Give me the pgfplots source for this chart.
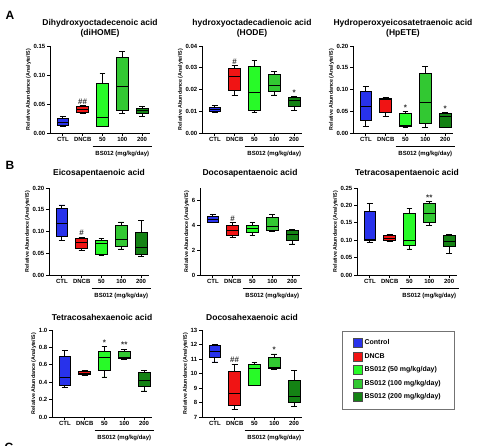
\documentclass[border=0pt]{standalone}
\usepackage{fontspec}
\setmainfont{Liberation Sans}
\usepackage{pgfplots}
\pgfplotsset{compat=1.18}
\usepgfplotslibrary{statistics}
\definecolor{cctl}{RGB}{40,50,235}
\definecolor{cdncb}{RGB}{240,20,20}
\definecolor{cfifty}{RGB}{40,250,40}
\definecolor{chund}{RGB}{50,200,50}
\definecolor{ctwo}{RGB}{20,130,20}
\pgfplotsset{
 panel/.style={scale only axis, width=100pt, height=87pt, anchor=south west,
  xmin=-0.65, xmax=4.4, xtick={0,1,2,3,4}, xticklabels={CTL,DNCB,50,100,200},
  axis x line=bottom, axis y line=left, axis line style={line width=0.8pt,-},
  tick style={line width=0.8pt, black}, tick align=outside, major tick length=3pt,
  clip=false, scaled y ticks=false,
  xticklabel style={font=\bfseries\fontsize{6}{7}\selectfont, inner sep=1.5pt},
  yticklabel style={font=\bfseries\fontsize{6}{7}\selectfont, inner sep=1.5pt},
  /pgf/number format/assume math mode=true,
  ylabel={Relative Abundance (Analyte/IS)},
  ylabel style={font=\bfseries\fontsize{5.3}{6}\selectfont, inner sep=1pt},
 },
 p2/.style={yticklabel style={/pgf/number format/fixed,/pgf/number format/fixed zerofill,/pgf/number format/precision=2}},
 p1/.style={yticklabel style={/pgf/number format/fixed,/pgf/number format/fixed zerofill,/pgf/number format/precision=1}},
 sw/.style={legend image code/.code={\draw[line width=0.4pt,draw=black!70,##1] (0pt,-4.5pt) rectangle (9pt,4.5pt);}},
}
\newcommand{\bx}[7]{\addplot[fill=#7, draw=black, line width=0.8pt, boxplot prepared={draw direction=y, draw position=#1, lower whisker=#2, lower quartile=#3, median=#4, upper quartile=#5, upper whisker=#6, box extend=0.6, whisker extend=0.3}] coordinates {};}
\newcommand{\sig}[3]{\node[anchor=south, inner sep=1pt, text=black!80, font=\bfseries\fontsize{8}{8}\selectfont] at (axis cs:#1,#2) {#3};}
\newcommand{\bsline}[1]{\draw[line width=0.9pt] ([yshift=-13pt]axis cs:1.5,#1) -- ([yshift=-13pt]axis cs:4.5,#1);
 \node[font=\bfseries\fontsize{6}{7}\selectfont] at ([yshift=-21pt]axis cs:3,#1) {BS012 (mg/kg/day)};}
\newcommand{\ttl}[2]{\node[font=\bfseries\fontsize{8.5}{10}\selectfont, align=center] at ([yshift=#1]rel axis cs:0.5,1) {#2};}
\begin{document}
\begin{tikzpicture}
\path[use as bounding box] (0pt,0pt) rectangle (481pt,445pt);
\node[font=\bfseries\fontsize{12}{14}\selectfont] at (10pt,430pt) {A};
\node[font=\bfseries\fontsize{12}{14}\selectfont] at (10pt,280pt) {B};
\node[font=\bfseries\fontsize{12}{14}\selectfont] at (9pt,-2pt) {C};
% Panel 1
\begin{axis}[panel, p2, at={(50pt,312pt)}, ymin=0, ymax=0.15, ytick={0,0.05,0.10,0.15}]
\bx{0}{0.012}{0.013}{0.019}{0.026}{0.029}{cctl}
\bx{1}{0.034}{0.036}{0.041}{0.045}{0.047}{cdncb}
\bx{2}{0.011}{0.012}{0.027}{0.086}{0.102}{cfifty}
\bx{3}{0.033}{0.039}{0.081}{0.131}{0.141}{chund}
\bx{4}{0.029}{0.033}{0.039}{0.043}{0.045}{ctwo}
\sig{1}{0.047}{\#\#}
\bsline{0}
\ttl{18pt}{Dihydroxyoctadecenoic acid\\(diHOME)}
\end{axis}
% Panel 2
\begin{axis}[panel, p2, at={(202pt,312pt)}, ymin=0, ymax=0.04, ytick={0,0.01,0.02,0.03,0.04}]
\bx{0}{0.0095}{0.0100}{0.0108}{0.0118}{0.0125}{cctl}
\bx{1}{0.0173}{0.0198}{0.0258}{0.0298}{0.0310}{cdncb}
\bx{2}{0.0095}{0.0105}{0.0188}{0.0307}{0.0332}{cfifty}
\bx{3}{0.0175}{0.0190}{0.0220}{0.0268}{0.0285}{chund}
\bx{4}{0.0105}{0.0120}{0.0148}{0.0163}{0.0168}{ctwo}
\sig{1}{0.031}{\#}
\sig{4}{0.0168}{*}
\bsline{0}
\ttl{18pt}{hydroxyoctadecadienoic acid\\(HODE)}
\end{axis}
% Panel 3
\begin{axis}[panel, p2, at={(353pt,312pt)}, ymin=0, ymax=0.20, ytick={0,0.05,0.10,0.15,0.20}]
\bx{0}{0.015}{0.028}{0.062}{0.096}{0.108}{cctl}
\bx{1}{0.038}{0.048}{0.078}{0.080}{0.081}{cdncb}
\bx{2}{0.014}{0.016}{0.018}{0.044}{0.050}{cfifty}
\bx{3}{0.013}{0.023}{0.070}{0.137}{0.153}{chund}
\bx{4}{0.012}{0.013}{0.038}{0.046}{0.047}{ctwo}
\sig{2}{0.050}{*}
\sig{4}{0.047}{*}
\bsline{0}
\ttl{18pt}{Hydroperoxyeicosatetraenoic acid\\(HpETE)}
\end{axis}
% Panel 4
\begin{axis}[panel, p2, at={(49pt,170pt)}, ymin=0, ymax=0.20, ytick={0,0.05,0.10,0.15,0.20}]
\bx{0}{0.080}{0.088}{0.118}{0.152}{0.161}{cctl}
\bx{1}{0.057}{0.062}{0.074}{0.085}{0.087}{cdncb}
\bx{2}{0.045}{0.047}{0.072}{0.079}{0.083}{cfifty}
\bx{3}{0.060}{0.065}{0.082}{0.113}{0.122}{chund}
\bx{4}{0.043}{0.048}{0.064}{0.099}{0.126}{ctwo}
\sig{1}{0.087}{\#}
\bsline{0}
\ttl{15pt}{Eicosapentaenoic acid}
\end{axis}
% Panel 5
\begin{axis}[panel, at={(200pt,170pt)}, ymin=0, ymax=7, ytick={0,2,4,6}]
\bx{0}{4.20}{4.25}{4.50}{4.70}{4.85}{cctl}
\bx{1}{3.05}{3.15}{3.55}{4.00}{4.20}{cdncb}
\bx{2}{3.20}{3.45}{3.75}{4.00}{4.25}{cfifty}
\bx{3}{3.50}{3.60}{3.95}{4.65}{4.90}{chund}
\bx{4}{2.50}{2.75}{3.25}{3.60}{3.70}{ctwo}
\sig{1}{4.20}{\#}
\bsline{0}
\ttl{15pt}{Docosapentaenoic acid}
\end{axis}
% Panel 6
\begin{axis}[panel, p2, at={(357pt,170pt)}, ymin=0, ymax=0.25, ytick={0,0.05,0.10,0.15,0.20,0.25}]
\bx{0}{0.093}{0.100}{0.101}{0.182}{0.205}{cctl}
\bx{1}{0.097}{0.099}{0.104}{0.113}{0.117}{cdncb}
\bx{2}{0.075}{0.086}{0.098}{0.177}{0.191}{cfifty}
\bx{3}{0.143}{0.150}{0.178}{0.206}{0.211}{chund}
\bx{4}{0.062}{0.082}{0.097}{0.113}{0.116}{ctwo}
\sig{3}{0.211}{**}
\bsline{0}
\ttl{15pt}{Tetracosapentaenoic acid}
\end{axis}
% Panel 7
\begin{axis}[panel, p1, at={(52pt,28pt)}, ymin=0, ymax=1.0, ytick={0,0.2,0.4,0.6,0.8,1.0}]
\bx{0}{0.34}{0.36}{0.46}{0.70}{0.77}{cctl}
\bx{1}{0.48}{0.49}{0.50}{0.52}{0.53}{cdncb}
\bx{2}{0.46}{0.54}{0.69}{0.75}{0.81}{cfifty}
\bx{3}{0.66}{0.67}{0.69}{0.75}{0.78}{chund}
\bx{4}{0.30}{0.35}{0.42}{0.51}{0.54}{ctwo}
\sig{2}{0.81}{*}
\sig{3}{0.78}{**}
\bsline{0}
\ttl{13pt}{Tetracosahexaenoic acid}
\end{axis}
% Panel 8
\begin{axis}[panel, at={(202pt,28pt)}, ymin=7, ymax=13, ytick={7,8,9,10,11,12,13}]
\bx{0}{10.80}{11.10}{11.50}{11.95}{12.00}{cctl}
\bx{1}{7.55}{7.80}{8.60}{10.15}{10.65}{cdncb}
\bx{2}{9.15}{9.20}{10.35}{10.60}{10.75}{cfifty}
\bx{3}{10.30}{10.35}{10.45}{11.10}{11.35}{chund}
\bx{4}{7.75}{8.00}{8.40}{9.55}{10.20}{ctwo}
\sig{1}{10.65}{\#\#}
\sig{3}{11.35}{*}
\bsline{7}
\ttl{13pt}{Docosahexaenoic acid}
\end{axis}
% Legend
\begin{axis}[hide axis, scale only axis, width=118pt, height=80pt, at={(339pt,35pt)}, anchor=south west,
 xmin=0, xmax=1, ymin=0, ymax=1,
 legend style={at={(0.5,0.5)}, anchor=center, draw=black!55, line width=0.6pt,
  font=\bfseries\fontsize{7}{8}\selectfont, inner xsep=11pt, inner ysep=6.5pt, row sep=3pt,
  cells={anchor=west}, nodes={inner sep=2pt}}]
\addlegendimage{sw, fill=cctl}\addlegendentry{Control}
\addlegendimage{sw, fill=cdncb}\addlegendentry{DNCB}
\addlegendimage{sw, fill=cfifty}\addlegendentry{BS012 (50 mg/kg/day)}
\addlegendimage{sw, fill=chund}\addlegendentry{BS012 (100 mg/kg/day)}
\addlegendimage{sw, fill=ctwo}\addlegendentry{BS012 (200 mg/kg/day)}
\end{axis}
\end{tikzpicture}
\end{document}
